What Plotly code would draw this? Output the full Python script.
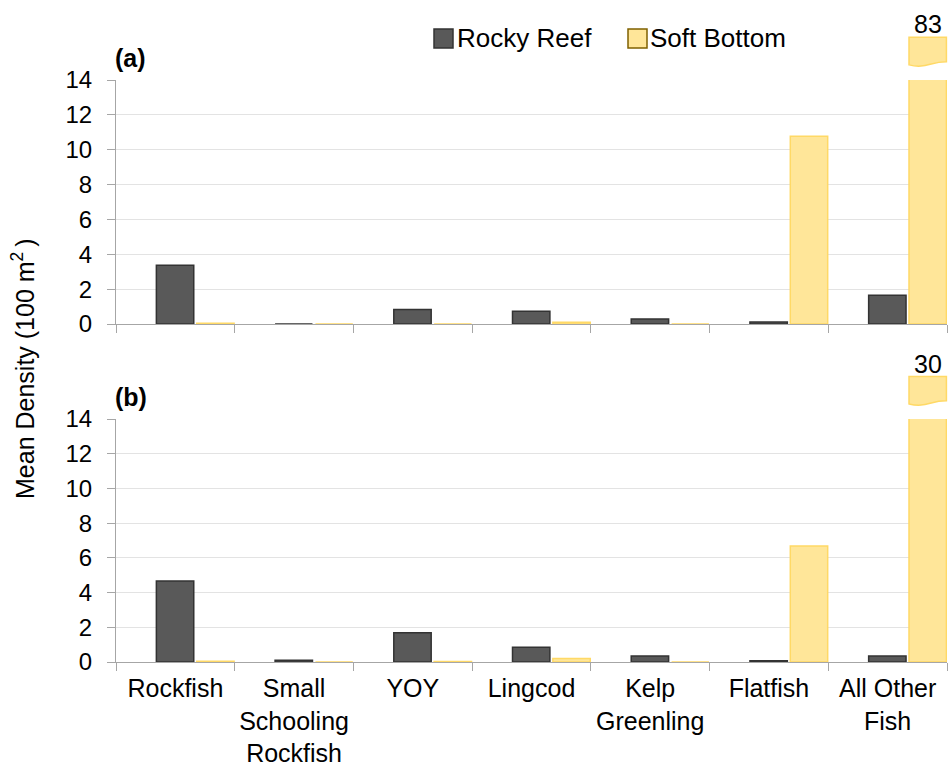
import plotly.graph_objects as go

# ---------------- data ----------------
categories = ["Rockfish", "Small Schooling Rockfish", "YOY", "Lingcod",
              "Kelp Greenling", "Flatfish", "All Other Fish"]
tick_labels = ["Rockfish", "Small<br>Schooling<br>Rockfish", "YOY", "Lingcod",
               "Kelp<br>Greenling", "Flatfish", "All Other<br>Fish"]
series_names = ["Rocky Reef", "Soft Bottom"]

rocky_a = [3.37, 0.0, 0.83, 0.73, 0.29, 0.12, 1.65]
soft_a = [0.05, 0.0, 0.0, 0.10, 0.0, 10.77, 83]
rocky_b = [4.67, 0.10, 1.69, 0.85, 0.35, 0.07, 0.35]
soft_b = [0.05, 0.0, 0.03, 0.20, 0.0, 6.68, 30]

y_ticks = [0, 2, 4, 6, 8, 10, 12, 14]
panel_labels = ["(a)", "(b)"]

# ---------------- styling ----------------
W, H = 949, 764
ML, MR = 116, 2
FONT = "Liberation Sans, Arial, sans-serif"
FS = 25
FS_TICK = 24
FS_CAT = 25
ROCK_FILL, ROCK_LINE = "#595959", "#333333"
SOFT_FILL, SOFT_LINE = "#FFE699", "#FFD966"
GRID, AXIS = "#E3E3E3", "#A6A6A6"
BAR_W = 0.315
OFF_ROCK, OFF_SOFT = -0.16, 0.18

dom_a = [1 - 324 / H, 1 - 80 / H]
dom_b = [1 - 662 / H, 1 - 419 / H]
n = len(categories)


def px_x(px):
    return (px - ML) / (W - ML - MR)


def px_y(py):
    return 1 - py / H


def cat_x(i, off):
    return (i + 0.5 + off) / n


def dom_y(dom, frac):
    return dom[0] + frac * (dom[1] - dom[0])


fig = go.Figure()

panels = [("x", "y", rocky_a, soft_a, dom_a), ("x2", "y2", rocky_b, soft_b, dom_b)]
for xa, ya, rk, sf, dom in panels:
    fig.add_trace(go.Bar(x=categories, y=rk, name=series_names[0], xaxis=xa, yaxis=ya,
                         width=BAR_W, offset=OFF_ROCK, showlegend=False,
                         marker=dict(color=ROCK_FILL, line=dict(color=ROCK_LINE, width=1.5))))
    fig.add_trace(go.Bar(x=categories, y=sf, name=series_names[1], xaxis=xa, yaxis=ya,
                         width=BAR_W, offset=OFF_SOFT, showlegend=False,
                         marker=dict(color=SOFT_FILL, line=dict(color=SOFT_LINE, width=1.5))))

axis_common = dict(showline=True, linecolor=AXIS, linewidth=1, mirror=False,
                   zeroline=False, fixedrange=True)
fig.update_layout(
    width=W, height=H,
    margin=dict(l=ML, r=MR, t=0, b=0, autoexpand=False),
    paper_bgcolor="white", plot_bgcolor="white",
    font=dict(family=FONT, size=FS, color="black"),
    barmode="overlay",
    showlegend=False,
    xaxis=dict(domain=[0, 1], anchor="y", type="category", categoryorder="array",
               categoryarray=categories, range=[-0.5, n - 0.5], tickson="boundaries",
               ticks="outside", ticklen=8, tickcolor=AXIS, showticklabels=False,
               showgrid=False, **axis_common),
    xaxis2=dict(domain=[0, 1], anchor="y2", type="category", categoryorder="array",
                categoryarray=categories, range=[-0.5, n - 0.5], tickson="boundaries",
                ticks="outside", ticklen=8, tickcolor=AXIS, tickmode="array",
                tickvals=categories, ticktext=tick_labels, ticklabelstandoff=4,
                tickangle=0, tickfont=dict(size=FS_CAT),
                showgrid=False, **axis_common),
    yaxis=dict(domain=dom_a, anchor="x", range=[0, 14], tickvals=y_ticks,
               ticks="outside", ticklen=8, tickcolor=AXIS, showgrid=True,
               tickfont=dict(size=FS_TICK),
               gridcolor=GRID, gridwidth=1, ticklabelstandoff=10, **axis_common),
    yaxis2=dict(domain=dom_b, anchor="x2", range=[0, 14], tickvals=y_ticks,
                ticks="outside", ticklen=8, tickcolor=AXIS, showgrid=True,
                tickfont=dict(size=FS_TICK),
                gridcolor=GRID, gridwidth=1, ticklabelstandoff=10, **axis_common),
)

shapes = []
annotations = []

# broken bars (values above axis range) drawn as a piece above the panel
for sf, dom in [(soft_a, dom_a), (soft_b, dom_b)]:
    for i, v in enumerate(sf):
        if v > y_ticks[-1]:
            x0 = cat_x(i, OFF_SOFT)
            x1 = cat_x(i, OFF_SOFT + BAR_W)
            w = x1 - x0
            yt = dom_y(dom, 1.175)
            ybr = dom_y(dom, 1.075)
            ybl = dom_y(dom, 1.062)
            ydip = dom_y(dom, 1.045)
            path = (f"M {x0},{yt} L {x1},{yt} L {x1},{ybr} "
                    f"C {x0 + 0.55 * w},{ybr} {x0 + 0.45 * w},{ydip} {x0},{ybl} Z")
            shapes.append(dict(type="path", xref="paper", yref="paper", path=path,
                               fillcolor=SOFT_FILL, line=dict(color=SOFT_LINE, width=1.5),
                               layer="above"))
            annotations.append(dict(xref="paper", yref="paper", x=(x0 + x1) / 2,
                                    y=dom_y(dom, 1.228), text=f"{v:g}", showarrow=False,
                                    xanchor="center", yanchor="middle",
                                    font=dict(size=FS)))

# panel labels
for lab, dom in zip(panel_labels, [dom_a, dom_b]):
    annotations.append(dict(xref="paper", yref="paper", x=px_x(113), y=dom_y(dom, 1.09),
                            text=f"<b>{lab}</b>", showarrow=False, xanchor="left",
                            yanchor="middle", font=dict(size=FS)))

# y-axis title
annotations.append(dict(xref="paper", yref="paper", x=px_x(23), y=px_y(369),
                        text="Mean Density (100 m<sup>2 </sup>)", textangle=-90,
                        showarrow=False, xanchor="center", yanchor="middle",
                        font=dict(size=FS)))

# legend
leg = [(series_names[0], ROCK_FILL, "#333333", 434, 457),
       (series_names[1], SOFT_FILL, "#7F6000", 628, 650)]
for name, fill, line, sx, tx in leg:
    shapes.append(dict(type="rect", xref="paper", yref="paper",
                       x0=px_x(sx), x1=px_x(sx + 19), y0=px_y(48), y1=px_y(29),
                       fillcolor=fill, line=dict(color=line, width=1.5)))
    annotations.append(dict(xref="paper", yref="paper", x=px_x(tx - 2), y=px_y(38.5),
                            text=name, showarrow=False, xanchor="left", yanchor="middle",
                            font=dict(size=26)))

fig.update_layout(shapes=shapes, annotations=annotations)
fig.write_html("out.html", config={"displayModeBar": False},
               post_script="document.body.style.margin='0';document.body.style.overflow='hidden';")
